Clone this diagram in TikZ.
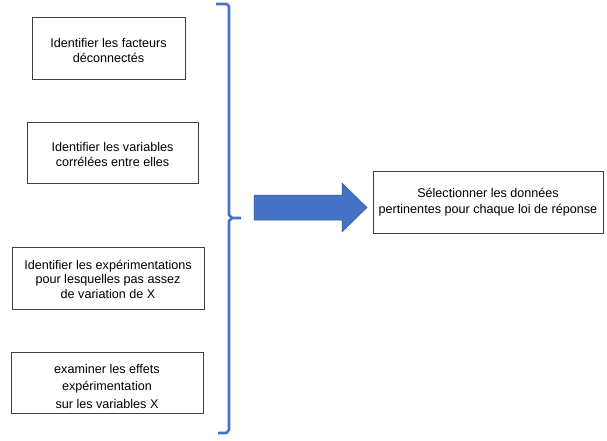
\documentclass[tikz,border=0pt]{standalone}
\usepackage{fontspec}
\setmainfont{Liberation Sans}
\definecolor{bl}{HTML}{4472C4}
\definecolor{bld}{HTML}{2F528F}
\begin{document}
\begin{tikzpicture}[x=1pt,y=-1pt,
  box/.style={draw=black!75,line width=0.8pt,fill=white},
  txt/.style={align=center,font=\fontsize{12.6}{15}\selectfont,inner sep=0pt}]
\useasboundingbox (0,0) rectangle (607,441);
% boxes
\draw[box] (32,17) rectangle (185,79);
\node[txt] (t1) at (108.5,50) {Identifier les facteurs\\déconnectés};
\draw[box] (27,122) rectangle (198,183);
\node[txt] (t2) at (112.5,154) {Identifier les variables\\corrélées entre elles};
\draw[box] (12,247) rectangle (204,309);
\node[txt,font=\fontsize{12.6}{14.5}\selectfont] (t3) at (108,279) {Identifier les expérimentations\\pour lesquelles pas assez\\de variation de X};
\draw[box] (11,352) rectangle (203,413);
\node[txt,font=\fontsize{12.6}{17.5}\selectfont] (t4) at (107,386) {examiner les effets\\expérimentation\\sur les variables X};
\draw[box] (373,171) rectangle (603,233);
\node[txt,font=\fontsize{12.6}{16}\selectfont] (t5) at (488,202) {Sélectionner les données\\pertinentes pour chaque loi de réponse};
% brace
\draw[bl,line width=2.6pt,line join=round] (216,4) -- (226,4) to[out=0,in=90] (229,7) -- (229,215) -- (232,218) -- (241,218);
\draw[bl,line width=2.6pt,line join=round] (232,218) -- (229,221) -- (229,430) to[out=90,in=0] (226,433) -- (218,433);
% arrow
\coordinate (a0) at (254,207.5);
\coordinate (tip) at (367,207.5);
\fill[bl,draw=bld,line width=0.5pt] (254,195) -- (342,195) -- (342,183) -- (tip) -- (342,232) -- (342,220) -- (254,220) -- cycle;
\end{tikzpicture}
\end{document}
